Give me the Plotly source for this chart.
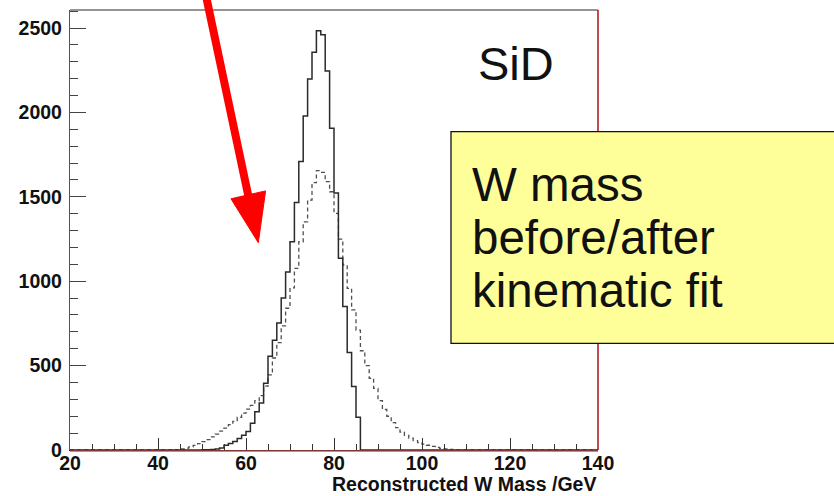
import plotly.graph_objects as go

# Reconstructed W mass histograms, 1 GeV bins from 20 to 140 GeV
BIN_LO, BIN_HI = 20, 140

# after kinematic fit (solid): counts for bins starting at 50 GeV
after_fit_start = 50
after_fit_counts = [1, 2, 3, 6, 12, 28, 38, 50, 68, 88,
                    110, 158, 226, 278, 396, 555, 650, 752, 900, 1054,
                    1234, 1467, 1710, 1979, 2198, 2356, 2484, 2460, 2245, 1906,
                    1522, 1136, 850, 578, 376, 194]

# before kinematic fit (dashed): counts for bins starting at 44 GeV
before_fit_start = 44
before_fit_counts = [2, 6, 11, 18, 27, 38, 50, 62, 78, 94,
                     112, 130, 150, 170, 194, 218, 242, 264, 292, 322,
                     378, 445, 545, 636, 735, 840, 960, 1076, 1234, 1352,
                     1481, 1584, 1655, 1645, 1590, 1530, 1402, 1250, 1096, 958,
                     830, 710, 588, 500, 425, 365, 292, 240, 200, 162,
                     132, 106, 87, 70, 56, 44, 35, 28, 21, 15,
                     10, 7, 4, 2, 1]

x_tick_labels = ["20", "40", "60", "80", "100", "120", "140"]
y_tick_labels = ["0", "500", "1000", "1500", "2000", "2500"]

x_title = "Reconstructed W Mass /GeV"
detector_label = "SiD"
note_lines = ["W mass", "before/after", "kinematic fit"]


def full_histogram(start, counts):
    """Pad a partial list of bin counts with empty bins over the full range."""
    n_bins = BIN_HI - BIN_LO
    values = [0] * n_bins
    for i, c in enumerate(counts):
        values[start - BIN_LO + i] = c
    return values


def step_xy(values):
    edges = list(range(BIN_LO, BIN_HI + 1))
    return edges, values + [values[-1]]


W, H = 834, 496
L, R, T, B = 70, 598, 10, 450  # plot frame in pixels


def pp(px, py):
    """Pixel position -> paper coordinates."""
    return (px - L) / (R - L), (B - py) / (B - T)


fig = go.Figure()

xs, ys = step_xy(full_histogram(before_fit_start, before_fit_counts))
fig.add_trace(go.Scatter(x=xs, y=ys, mode="lines", line_shape="hv",
                         line=dict(color="#505050", width=1.3, dash="4px,3px"),
                         hoverinfo="skip", showlegend=False))

xs, ys = step_xy(full_histogram(after_fit_start, after_fit_counts))
fig.add_trace(go.Scatter(x=xs, y=ys, mode="lines", line_shape="hv",
                         line=dict(color="#2a2a2a", width=1.5),
                         hoverinfo="skip", showlegend=False))

tick_font = dict(family="Liberation Sans, Arial, sans-serif", size=19.5,
                 color="#111111", weight="bold")

fig.update_xaxes(range=[BIN_LO, BIN_HI],
                 tickvals=[int(v) for v in x_tick_labels], ticktext=x_tick_labels,
                 ticks="inside", ticklen=12, tickwidth=1.2, tickcolor="#333333",
                 minor=dict(ticks="inside", ticklen=6, dtick=5, tickwidth=1.2,
                            tickcolor="#333333", showgrid=False),
                 showline=True, linecolor="#222222", linewidth=1.3,
                 showgrid=False, zeroline=False, tickfont=tick_font,
                 ticklabelstandoff=-5)

fig.update_yaxes(range=[0, 2607],
                 tickvals=[int(v) for v in y_tick_labels], ticktext=y_tick_labels,
                 ticks="inside", ticklen=16, tickwidth=1.2, tickcolor="#444444",
                 minor=dict(ticks="inside", ticklen=8, dtick=100, tickwidth=1.2,
                            tickcolor="#444444", showgrid=False),
                 showline=True, linecolor="#555555", linewidth=1.3,
                 showgrid=False, zeroline=False, tickfont=tick_font,
                 ticklabelstandoff=3)

shapes = []
# top frame edge (grey) and right frame edge (dark red), red line under the x axis
shapes.append(dict(type="line", xref="paper", yref="paper", x0=0, x1=1, y0=1, y1=1,
                   line=dict(color="#707070", width=1.3), layer="above"))
shapes.append(dict(type="line", xref="paper", yref="paper", x0=1, x1=1, y0=0, y1=1,
                   line=dict(color="#b02020", width=1.6), layer="above"))
x0p, y0p = pp(L, B + 1.2)
shapes.append(dict(type="line", xref="paper", yref="paper", x0=0, x1=1, y0=y0p, y1=y0p,
                   line=dict(color="#e05050", width=1.2), layer="above"))

# red arrow: shaft plus triangular head
sx0, sy0 = pp(205.6, -6)
sx1, sy1 = pp(249.2, 200)
shapes.append(dict(type="line", xref="paper", yref="paper",
                   x0=sx0, y0=sy0, x1=sx1, y1=sy1,
                   line=dict(color="#ff0000", width=8), layer="above"))
head = [pp(258.3, 242.7), pp(231.0, 198.8), pp(265.6, 190.9)]
path = "M {:.5f},{:.5f} L {:.5f},{:.5f} L {:.5f},{:.5f} Z".format(
    head[0][0], head[0][1], head[1][0], head[1][1], head[2][0], head[2][1])
shapes.append(dict(type="path", xref="paper", yref="paper", path=path,
                   fillcolor="#ff0000", line=dict(color="#ff0000", width=1),
                   layer="above"))

# yellow note box
bx0, by0 = pp(451, 343.3)
bx1, by1 = pp(850, 131.7)
shapes.append(dict(type="rect", xref="paper", yref="paper",
                   x0=bx0, y0=by0, x1=bx1, y1=by1,
                   fillcolor="#ffff99", line=dict(color="#111111", width=1.3),
                   layer="above"))

annotations = []
ax, ay = pp(597, 496)
annotations.append(dict(text=x_title, xref="paper", yref="paper", x=ax, y=ay,
                        xanchor="right", yanchor="bottom", showarrow=False,
                        borderpad=0,
                        font=dict(family="Liberation Sans, Arial, sans-serif",
                                  size=19.5, color="#111111", weight="bold")))

dx, dy = pp(515.5, 64)
annotations.append(dict(text=detector_label, xref="paper", yref="paper", x=dx, y=dy,
                        xanchor="center", yanchor="middle", showarrow=False,
                        font=dict(family="Liberation Sans, Arial, sans-serif",
                                  size=47, color="#111111")))

for i, line in enumerate(note_lines):
    nx, ny = pp(470, 184 + i * 53.3)
    annotations.append(dict(text=line, xref="paper", yref="paper", x=nx, y=ny,
                            xanchor="left", yanchor="middle", showarrow=False,
                            font=dict(family="Liberation Sans, Arial, sans-serif",
                                      size=47.5, color="#111111")))

fig.update_layout(width=W, height=H,
                  margin=dict(l=L, r=W - R, t=T, b=H - B, pad=0),
                  paper_bgcolor="white", plot_bgcolor="white",
                  shapes=shapes, annotations=annotations)

fig.write_html("out.html", config={"displayModeBar": False})
